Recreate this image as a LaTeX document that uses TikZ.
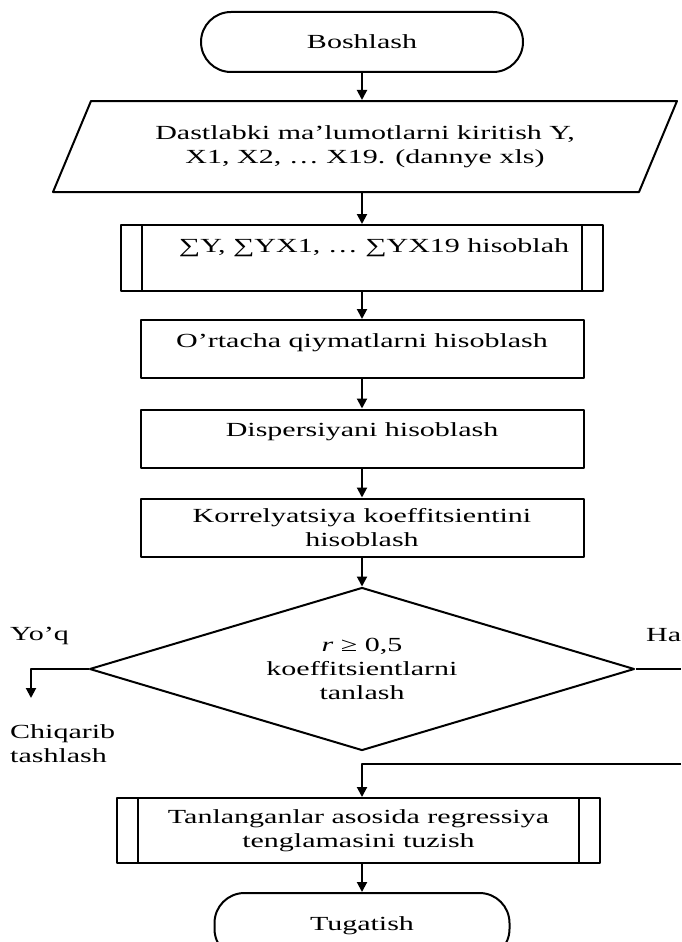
\documentclass[tikz,border=0pt]{standalone}
\usepackage{fontspec}
\setmainfont{Liberation Serif}[FakeStretch=1.5]
\usetikzlibrary{shapes.geometric,arrows.meta}

\begin{document}
\begin{tikzpicture}[x=1pt,y=-1pt,>={Stealth[length=10pt,width=10pt,inset=0pt]},line join=round,
	font=\fontsize{20}{24}\selectfont,
	term/.style={draw,line width=2pt,rounded corners=30pt,minimum width=322pt,minimum height=60pt,inner sep=0pt},
	inbox/.style={draw,line width=2pt,trapezium,trapezium left angle=48,trapezium right angle=132,
		trapezium stretches body,minimum width=624pt,minimum height=91pt,align=center,inner sep=0pt},
	proc/.style={draw,line width=2pt,minimum width=443pt,minimum height=58pt,align=center,inner sep=0pt},
	subproc/.style={proc,minimum width=482pt,minimum height=66pt,path picture={
		\draw[line width=2pt] ([xshift=21pt]path picture bounding box.north west) -- ([xshift=21pt]path picture bounding box.south west)
		([xshift=-21pt]path picture bounding box.north east) -- ([xshift=-21pt]path picture bounding box.south east);}},
	dec/.style={draw,line width=2pt,diamond,shape aspect=3.3,minimum width=545pt,minimum height=163pt,align=center,inner sep=0pt},
	toptext/.style={text height=14pt,text depth=#1},
	lbl/.style={align=left,inner sep=0pt},
	flow/.style={->,line width=2pt}]
	\useasboundingbox (0,0) rectangle (681,942);
	\clip (0,0) rectangle (681,942);
	% blocks
	\node[term] (start) at (362,42) {Boshlash};
	\node[inbox] (input) at (365,146.5) {Dastlabki ma’lumotlarni kiritish Y,\\X1, X2, … X19. (dannye xls)};
	\node[subproc,toptext=26pt] (sums) at (362,258) {\hspace*{24pt}∑Y, ∑YX1, … ∑YX19 hisoblah};
	\node[proc,toptext=18pt] (mean) at (362,349) {O’rtacha qiymatlarni hisoblash};
	\node[proc,toptext=18pt] (disp) at (362,438.5) {Dispersiyani hisoblash};
	\node[proc] (corr) at (362,527.5) {Korrelyatsiya koeffitsientini\\hisoblash};
	\node[dec] (pick) at (362,669) {{\itshape r} ≥ 0,5\\koeffitsientlarni\\tanlash};
	\node[subproc,minimum width=483pt,minimum height=65pt] (regr) at (358.5,830.5) {Tanlanganlar asosida regressiya\\tenglamasini tuzish};
	\node[term,minimum width=295pt,minimum height=66pt] (stop) at (362,926) {Tugatish};
	% branch labels
	\node[lbl,anchor=west] (no) at (10,636) {Yo’q};
	\node[lbl,anchor=west] (yes) at (646,635) {Ha};
	\node[lbl,anchor=north west] (drop) at (10,724) {Chiqarib\\tashlash};
	\coordinate (noEnd) at (31,698);
	\coordinate (yesOut) at (681,669);
	\coordinate (yesIn) at (681,764);
	% arrows
	\draw[flow] (start) -- (start |- input.north);
	\draw[flow] (input.south -| sums) -- (sums);
	\draw[flow] (sums) -- (mean);
	\draw[flow] (mean) -- (disp);
	\draw[flow] (disp) -- (corr);
	\draw[flow] (corr) -- (pick);
	\draw[flow] (pick.west) -| (noEnd);
	\draw[line width=2pt] (pick.east) -- (yesOut);
	\draw[flow] (yesIn) -| (regr.north -| pick.south);
	\draw[flow] (regr.south -| stop) -- (stop);
\end{tikzpicture}
\end{document}
